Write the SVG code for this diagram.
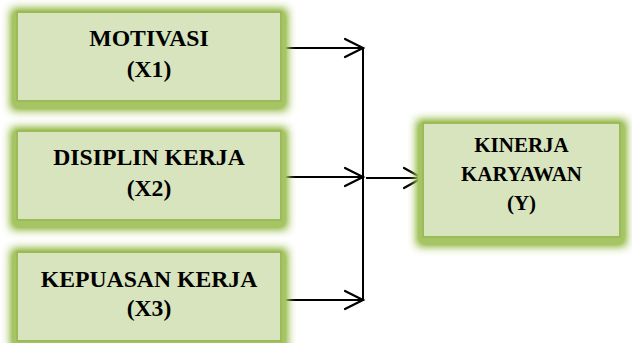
<svg xmlns="http://www.w3.org/2000/svg" width="632" height="343" viewBox="0 0 632 343">
  <defs>
    <filter id="glow" x="-20%" y="-30%" width="140%" height="170%">
      <feMorphology in="SourceAlpha" operator="dilate" radius="5" result="d"/>
      <feGaussianBlur in="d" stdDeviation="5" result="b"/>
      <feOffset in="b" dy="3" result="o"/>
      <feComponentTransfer in="o" result="oa">
        <feFuncA type="linear" slope="1.6"/>
      </feComponentTransfer>
      <feFlood flood-color="#a5c463" flood-opacity="1"/>
      <feComposite in2="oa" operator="in" result="g"/>
      <feMerge>
        <feMergeNode in="g"/>
        <feMergeNode in="SourceGraphic"/>
      </feMerge>
    </filter>
  </defs>
  <style>
    .box { fill: #d7e4bd; stroke: #9bbb59; stroke-width: 2; filter: url(#glow); }
    .t { font-family: "Liberation Serif", "Times New Roman", serif; font-weight: bold; font-size: 23.7px; fill: #000; text-anchor: middle; }
    .ty { font-size: 21px; }
    .ln { stroke: #000; stroke-width: 2; fill: none; }
    .ah { stroke: #000; stroke-width: 2.2; fill: none; stroke-linecap: round; stroke-linejoin: miter; }
  </style>
  <rect width="632" height="343" fill="#fff"/>

  <g id="connectors">
    <line class="ln" x1="281" y1="48" x2="363" y2="48"/>
    <polyline class="ah" points="345,39 363,48 345,57"/>
    <line class="ln" x1="281" y1="177" x2="363" y2="177"/>
    <polyline class="ah" points="345,168 363,177 345,186"/>
    <line class="ln" x1="281" y1="300" x2="363" y2="300"/>
    <polyline class="ah" points="345,291 363,300 345,309"/>
    <line class="ln" x1="363" y1="47" x2="363" y2="301"/>
    <line class="ln" x1="366" y1="178" x2="422" y2="178"/>
    <polyline class="ah" points="404,168 422,178 404,188"/>
  </g>

  <g id="x1">
    <rect class="box" x="17" y="12" width="264" height="89"/>
    <text class="t" x="149" y="46">MOTIVASI</text>
    <text class="t" x="149" y="77">(X1)</text>
  </g>

  <g id="x2">
    <rect class="box" x="17" y="131" width="264" height="89"/>
    <text class="t" x="149" y="165">DISIPLIN KERJA</text>
    <text class="t" x="149" y="196">(X2)</text>
  </g>

  <g id="x3">
    <rect class="box" x="17" y="252" width="264" height="89"/>
    <text class="t" x="149" y="287">KEPUASAN KERJA</text>
    <text class="t" x="149" y="316">(X3)</text>
  </g>

  <g id="y">
    <rect class="box" x="423" y="123" width="197" height="114"/>
    <text class="t ty" x="521.5" y="152">KINERJA</text>
    <text class="t ty" x="521.5" y="181">KARYAWAN</text>
    <text class="t ty" x="521.5" y="210">(Y)</text>
  </g>
</svg>
